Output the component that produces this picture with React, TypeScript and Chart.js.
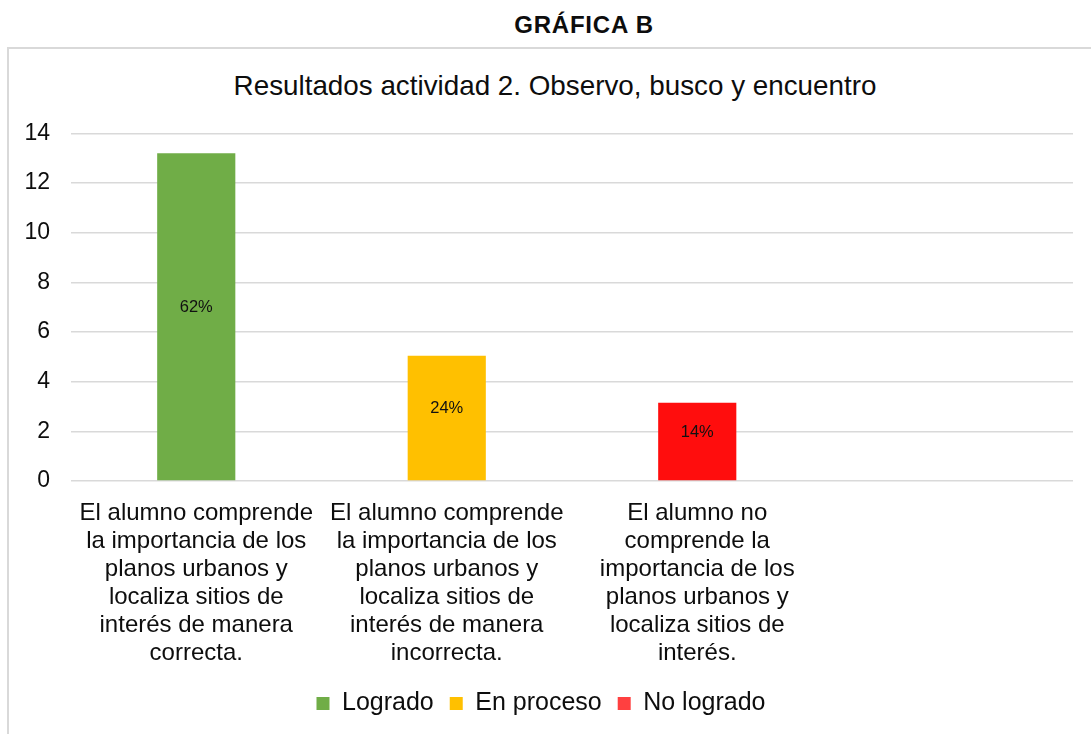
import React, { useEffect, useRef } from "react";
import { Chart, registerables } from "chart.js";

Chart.register(...registerables);

const categories: string[][] = [
  ["El alumno comprende", "la importancia de los", "planos urbanos y", "localiza sitios de", "interés de manera", "correcta."],
  ["El alumno comprende", "la importancia de los", "planos urbanos y", "localiza sitios de", "interés de manera", "incorrecta."],
  ["El alumno no", "comprende la", "importancia de los", "planos urbanos y", "localiza sitios de", "interés."],
  [""],
];
const seriesNames = ["Logrado", "En proceso", "No logrado"];
const logrado = [13.2, null, null, null];
const enProceso = [null, 5.05, null, null];
const noLogrado = [null, null, 3.15, null];
const percentLabels = ["62%", "24%", "14%"];
const barColors = ["#70AD47", "#FFC000", "#FF0D0D"];
const legendColors = ["#70AD47", "#FFC000", "#FF4040"];
const yTicks = [0, 2, 4, 6, 8, 10, 12, 14];

const FONT = "'Liberation Sans', Arial, Helvetica, sans-serif";

const dataLabelPlugin = {
  id: "pctLabels",
  afterDatasetsDraw(chart: any) {
    const ctx = chart.ctx;
    ctx.save();
    ctx.font = `16.5px ${FONT}`;
    ctx.fillStyle = "#111";
    ctx.textAlign = "center";
    ctx.textBaseline = "middle";
    chart.data.datasets.forEach((ds: any, di: number) => {
      const meta = chart.getDatasetMeta(di);
      meta.data.forEach((el: any, i: number) => {
        if (ds.data[i] == null) return;
        const y = (el.y + el.base) / 2 - 9;
        ctx.fillText(percentLabels[di], el.x, y);
      });
    });
    ctx.restore();
  },
};

export default function App() {
  const ref = useRef<HTMLCanvasElement | null>(null);
  useEffect(() => {
    if (!ref.current) return;
    const seriesData = [logrado, enProceso, noLogrado];
    const chart = new Chart(ref.current, {
      type: "bar",
      data: {
        labels: categories,
        datasets: seriesNames.map((name, i) => ({
          label: name,
          data: seriesData[i],
          backgroundColor: barColors[i],
          borderWidth: 0,
          grouped: false,
          categoryPercentage: 1,
          barPercentage: 0.312,
        })),
      },
      options: {
        animation: false,
        responsive: false,
        maintainAspectRatio: false,
        layout: { padding: { top: 84.5, left: 0, right: 0, bottom: 8 } },
        plugins: {
          title: { display: false },
          tooltip: { enabled: false },
          legend: {
            position: "bottom",
            labels: {
              boxWidth: 13,
              boxHeight: 13,
              padding: 16,
              color: "#0d0d0d",
              font: { size: 25, family: FONT },
              generateLabels: (chart: any) => {
                const items = Chart.defaults.plugins.legend.labels.generateLabels(chart);
                return items.map((it: any, i: number) => ({
                  ...it,
                  fillStyle: legendColors[i],
                  strokeStyle: legendColors[i],
                  lineWidth: 0,
                }));
              },
            },
          },
        },
        scales: {
          x: {
            grid: { display: false, drawTicks: false },
            border: { display: false },
            ticks: {
              color: "#0d0d0d",
              font: { size: 24, family: FONT, lineHeight: 1.17 },
              padding: 18,
              maxRotation: 0,
              autoSkip: false,
            },
            afterFit: (axis: any) => {
              axis.height = 194;
            },
          },
          y: {
            min: 0,
            max: 14,
            afterBuildTicks: (axis: any) => {
              axis.ticks = yTicks.map((v) => ({ value: v }));
            },
            grid: { color: "#d9d9d9", lineWidth: 1.5, drawTicks: false },
            border: { display: false },
            ticks: {
              color: "#0d0d0d",
              font: { size: 23, family: FONT },
              padding: 21,
            },
            afterFit: (axis: any) => {
              axis.width = 62;
            },
          },
        },
      },
      plugins: [dataLabelPlugin],
    } as any);
    return () => chart.destroy();
  }, []);

  return (
    <div
      style={{
        position: "absolute",
        left: 0,
        top: 0,
        width: 1091,
        height: 734,
        overflow: "hidden",
        background: "#fff",
        fontFamily: FONT,
      }}
    >
      <div
        style={{
          position: "absolute",
          left: 434,
          width: 300,
          top: 13,
          textAlign: "center",
          fontWeight: "bold",
          fontSize: 24,
          lineHeight: 1,
          color: "#0d0d0d",
          letterSpacing: 0.8,
        }}
      >
        GRÁFICA B
      </div>
      <div
        style={{
          position: "absolute",
          left: 7,
          top: 47,
          width: 1200,
          height: 800,
          border: "2px solid #d9d9d9",
          boxSizing: "border-box",
        }}
      />
      <div
        style={{
          position: "absolute",
          left: 155,
          width: 800,
          top: 72,
          textAlign: "center",
          fontSize: 27.8,
          lineHeight: 1,
          color: "#0d0d0d",
        }}
      >
        Resultados actividad 2. Observo, busco y encuentro
      </div>
      <canvas
        ref={ref}
        width={1064}
        height={685}
        style={{ position: "absolute", left: 9, top: 49, width: 1064, height: 685 }}
      />
    </div>
  );
}
